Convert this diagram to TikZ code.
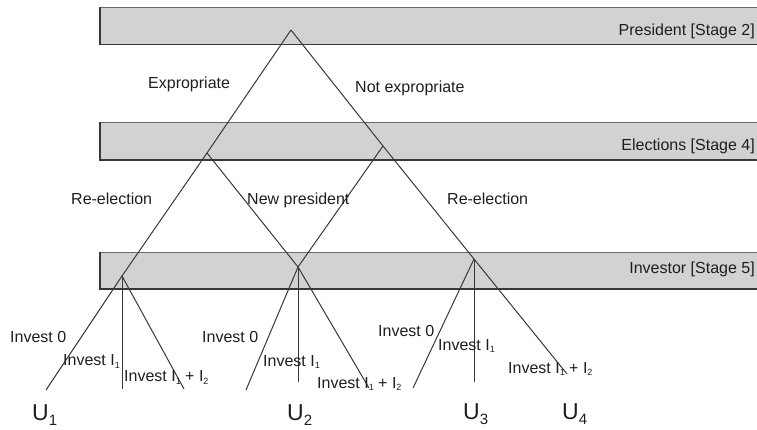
\documentclass[tikz,border=0pt]{standalone}
\usepackage{fontspec}
\setmainfont{Liberation Sans}
\definecolor{barfill}{HTML}{D2D2D2}
\definecolor{ln}{HTML}{383838}
\definecolor{topln}{HTML}{6A6A6A}
\definecolor{txt}{HTML}{1E1E1E}
\newcommand\sbs[1]{\raisebox{-0.35ex}{\fontsize{9}{9}\selectfont #1}}
\newcommand\usb[1]{\raisebox{-5pt}{\fontsize{15}{15}\selectfont #1}}
\begin{document}
\begin{tikzpicture}[x=1pt,y=-1pt,
  edge/.style={draw=ln, line width=1pt},
  lab/.style={font=\fontsize{16}{16}\selectfont, text=txt, inner sep=0pt, anchor=base west},
  stagelab/.style={lab, anchor=base east},
  ulab/.style={font=\fontsize{23}{23}\selectfont, text=txt, inner sep=0pt, anchor=base west}]
\useasboundingbox (0,0) rectangle (757,429);
% stage bars
\foreach \t/\b in {7/44.5, 122/160, 252/289}{
  \fill[barfill] (100,\t) rectangle (757,\b);
  \draw[topln, line width=1pt] (757,\t) -- (100,\t);
  \draw[ln, line width=1.4pt] (100,\t) -- (100,\b) -- (757,\b);
}
\node[stagelab] (s2) at (755,35) {President [Stage 2]};
\node[stagelab] (s4) at (755,150) {Elections [Stage 4]};
\node[stagelab] (s5) at (755,273) {Investor [Stage 5]};
% tree points
\coordinate (R) at (291,30);
\coordinate (E1) at (207,153);
\coordinate (E2) at (383,146);
\coordinate (A) at (122,276);
\coordinate (B) at (298,267);
\coordinate (C) at (474,259);
\coordinate (a0) at (46,390);
\coordinate (a1) at (122,389);
\coordinate (a2) at (184,389);
\coordinate (b0) at (246,390);
\coordinate (b1) at (298,382);
\coordinate (b2) at (369,388);
\coordinate (c0) at (413,388);
\coordinate (c1) at (474,382);
\coordinate (c2) at (567,374);
% connectors
\draw[edge] (R) -- (E1);
\draw[edge] (R) -- (E2);
\draw[edge] (E1) -- (A);
\draw[edge] (E1) -- (B);
\draw[edge] (E2) -- (B);
\draw[edge] (E2) -- (C);
\draw[edge] (A) -- (a0);
\draw[edge] (A) -- (a1);
\draw[edge] (A) -- (a2);
\draw[edge] (B) -- (b0);
\draw[edge] (B) -- (b1);
\draw[edge] (B) -- (b2);
\draw[edge] (C) -- (c0);
\draw[edge] (C) -- (c1);
\draw[edge] (C) -- (c2);
% branch labels
\node[lab] (lexp) at (148,88) {Expropriate};
\node[lab] (lnexp) at (355,92) {Not expropriate};
\node[lab] (lre1) at (71,204) {Re-election};
\node[lab] (lnew) at (247,204) {New president};
\node[lab] (lre2) at (447,204) {Re-election};
% invest labels
\node[lab] (ia0) at (10,342.5) {Invest 0};
\node[lab] (ia1) at (63,365.5) {Invest I\sbs{1}};
\node[lab] (ia2) at (124,381.5) {Invest I\sbs{1} + I\sbs{2}};
\node[lab] (ib0) at (202,342.5) {Invest 0};
\node[lab] (ib1) at (263,366) {Invest I\sbs{1}};
\node[lab] (ib2) at (317,388) {Invest I\sbs{1} + I\sbs{2}};
\node[lab] (ic0) at (378,336) {Invest 0};
\node[lab] (ic1) at (438,350) {Invest I\sbs{1}};
\node[lab] (ic2) at (508,373) {Invest I\sbs{1} + I\sbs{2}};
% payoffs
\node[ulab] (u1) at (32,420) {U\usb{1}};
\node[ulab] (u2) at (287,420) {U\usb{2}};
\node[ulab] (u3) at (463,419) {U\usb{3}};
\node[ulab] (u4) at (562,419) {U\usb{4}};
\end{tikzpicture}
\end{document}
